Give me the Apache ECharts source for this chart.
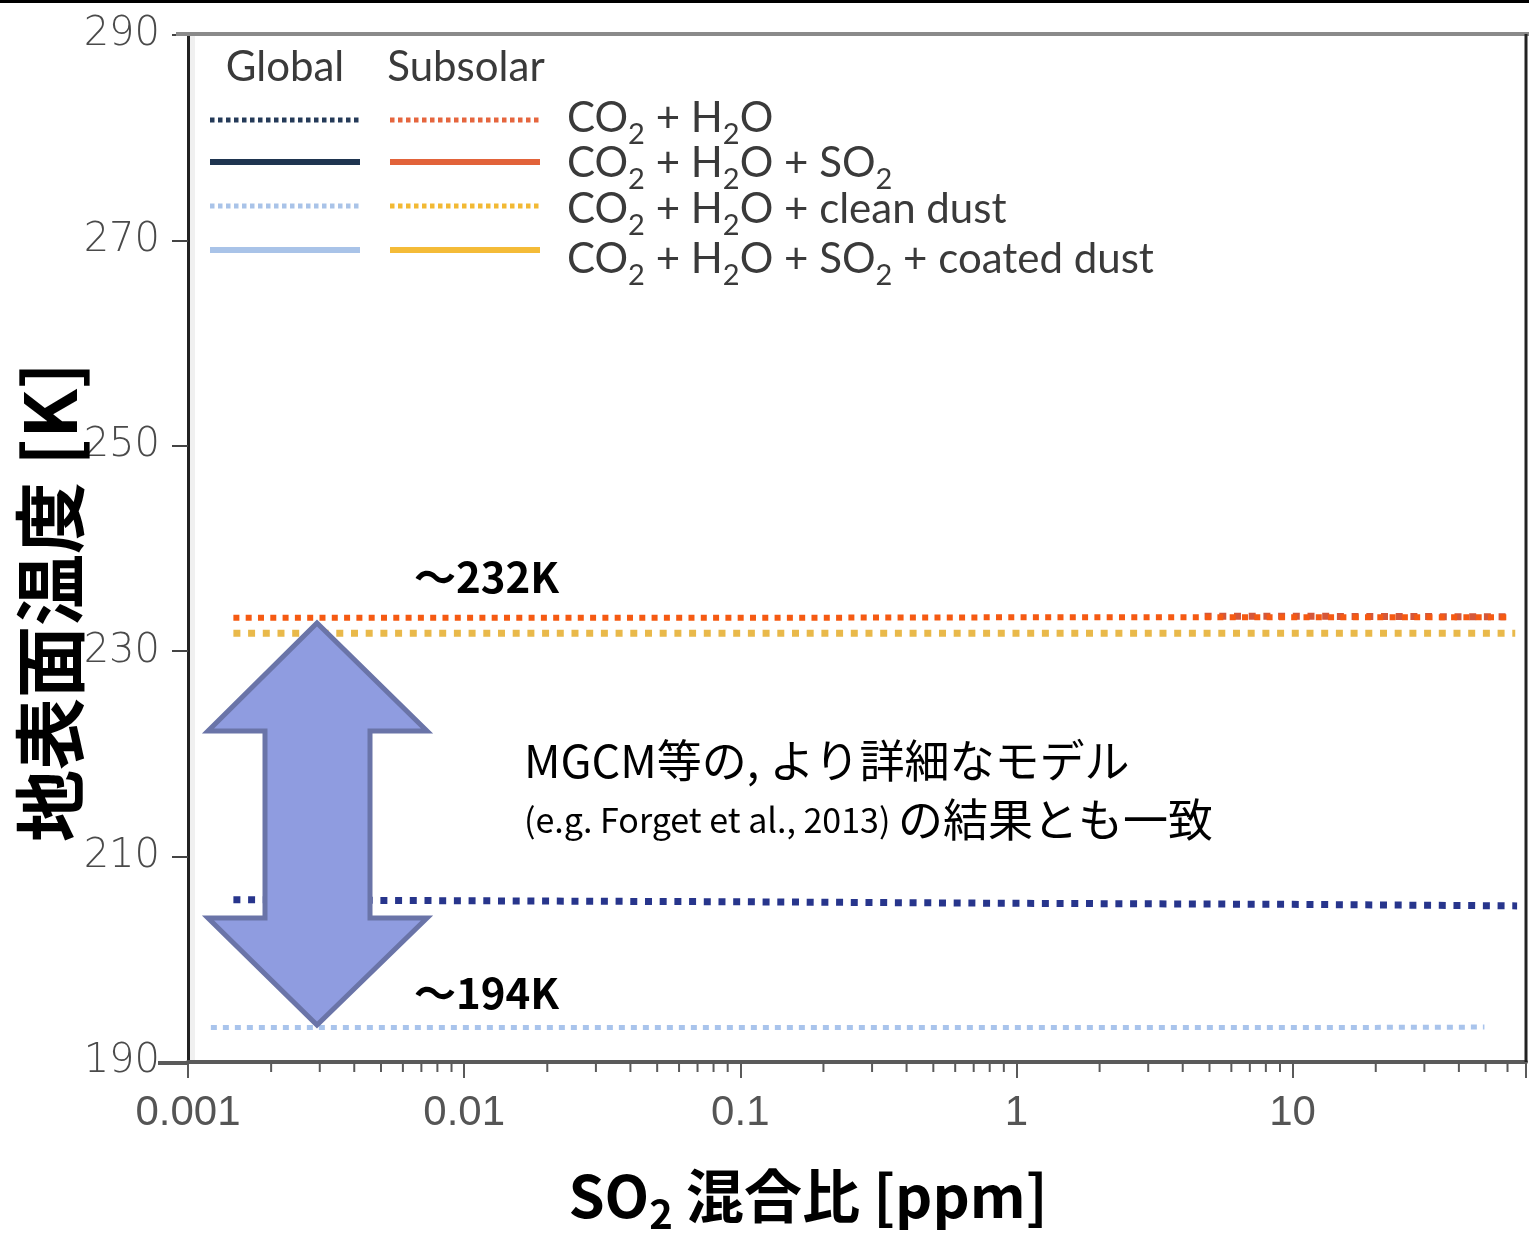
<!DOCTYPE html>
<html><head><meta charset="utf-8">
<script src="https://cdn.jsdelivr.net/npm/echarts@6/dist/echarts.min.js"></script>
<style>html,body{margin:0;padding:0;background:#fff}#c{width:1529px;height:1234px}</style>
</head><body><div id="c"></div>
<script>
// ---- data ----
const yTickValues = [190, 210, 230, 250, 270, 290];
const xMajorTickLabels = ['0.001', '0.01', '0.1', '1', '10'];
const xMinorTicks = [0.002,0.003,0.004,0.005,0.006,0.007,0.008,0.009,
                     0.02,0.03,0.04,0.05,0.06,0.07,0.08,0.09,
                     0.2,0.3,0.4,0.5,0.6,0.7,0.8,0.9,
                     2,3,4,5,6,7,8,9,
                     20,30,40,50,60];
// Subsolar CO2 + H2O
const subsolarH2O_x = [0.00146, 0.01, 0.1, 1, 10, 62];
const subsolarH2O_y = [233.25, 233.25, 233.25, 233.3, 233.3, 233.3];
// Subsolar CO2 + H2O + SO2 (visible segment)
const subsolarSO2_x = [4.8, 10, 62];
const subsolarSO2_y = [233.4, 233.4, 233.35];
// Subsolar CO2 + H2O + clean dust
const subsolarDust_x = [0.00146, 0.01, 0.1, 1, 10, 64];
const subsolarDust_y = [231.75, 231.75, 231.75, 231.75, 231.75, 231.75];
// Global CO2 + H2O
const globalH2O_x = [0.00146, 0.01, 0.1, 1, 10, 65];
const globalH2O_y = [205.8, 205.7, 205.6, 205.45, 205.35, 205.2];
// Global CO2 + H2O + clean dust
const globalDust_x = [0.00121, 0.01, 0.1, 1, 10, 49.5];
const globalDust_y = [193.35, 193.35, 193.35, 193.35, 193.35, 193.4];

const zip = (xs, ys) => xs.map((x, i) => [x, ys[i]]);

const chart = echarts.init(document.getElementById('c'), null, {renderer: 'canvas'});

const subTxt = (parts) => parts.map(p => p.s ? '{s|' + p.s + '}' : '{n|' + p.n + '}').join('');
const legendRich = {
  n: {fontSize: 42, fontFamily: 'Lato, "Open Sans", sans-serif', fill: '#3a3a3a', color: '#3a3a3a'},
  s: {fontSize: 29, fontFamily: 'Lato, "Open Sans", sans-serif', fill: '#3a3a3a', color: '#3a3a3a', padding: [34, 0, 0, 0]}
};

function legLine(x1, x2, y, color, dashed, w) {
  return {type: 'line', z: 100, shape: {x1: x1, y1: y, x2: x2, y2: y},
    style: {stroke: color, lineWidth: w, lineDash: dashed ? [4.5, 3.5] : null}};
}
function legText(x, y, txt) {
  return {type: 'text', z: 100, x: x, y: y,
    style: {text: txt, rich: legendRich, align: 'left', verticalAlign: 'middle'}};
}

const option = {
  backgroundColor: '#fff',
  animation: false,
  grid: {left: 188, top: 35, right: 2, bottom: 172, containLabel: false},
  xAxis: {
    type: 'log', logBase: 10, min: 0.001, max: 70,
    axisLine: {show: true, onZero: false, lineStyle: {color: '#5a5a5a', width: 4}},
    axisTick: {show: true, length: 16, lineStyle: {color: '#5a5a5a', width: 2}},
    axisLabel: {
      margin: 30, fontSize: 42, color: '#555',
      fontFamily: '"Liberation Sans Narrow", "Liberation Sans", sans-serif',
      formatter: (v) => {
        const s = xMajorTickLabels.find(l => Math.abs(parseFloat(l) - v) / v < 1e-6);
        return s || '';
      }
    },
    splitLine: {show: false}
  },
  yAxis: {
    type: 'value', min: yTickValues[0], max: yTickValues[yTickValues.length - 1], interval: 20,
    axisLine: {show: true, lineStyle: {color: '#222', width: 3}},
    axisTick: {show: true, length: 16, lineStyle: {color: '#444', width: 2}},
    axisLabel: {margin: 28, fontSize: 40, color: '#4a4a4a', fontFamily: '"DejaVu Sans", sans-serif', fontWeight: 200},
    splitLine: {show: false}
  },
  series: [
    {name: 'Global CO2 + H2O + clean dust', type: 'line', symbol: 'none', data: zip(globalDust_x, globalDust_y),
     lineStyle: {color: '#a9c4ec', width: 5, type: [6, 6], cap: 'butt'}, z: 2},
    {name: 'Global CO2 + H2O', type: 'line', symbol: 'none', data: zip(globalH2O_x, globalH2O_y),
     lineStyle: {color: '#27358c', width: 7, type: [7, 7.7], cap: 'butt'}, z: 3},
    {name: 'Subsolar CO2 + H2O + clean dust', type: 'line', symbol: 'none', data: zip(subsolarDust_x, subsolarDust_y),
     lineStyle: {color: '#e9b94a', width: 7, type: [7, 7.7], cap: 'butt'}, z: 3},
    {name: 'Subsolar CO2 + H2O + SO2', type: 'line', symbol: 'none', data: zip(subsolarSO2_x, subsolarSO2_y),
     lineStyle: {color: '#d4573a', width: 7, type: [7, 7.7], cap: 'butt'}, z: 3},
    {name: 'Subsolar CO2 + H2O', type: 'line', symbol: 'none', data: zip(subsolarH2O_x, subsolarH2O_y),
     lineStyle: {color: '#f55a12', width: 6, type: [6, 6.3], cap: 'butt'}, z: 4},
    {name: 'minor ticks', type: 'custom', silent: true, clip: false,
     data: xMinorTicks.map(v => [v, 190]),
     encode: {x: 0, y: 1},
     renderItem: (params, api) => {
       const p = api.coord([api.value(0), 190]);
       return {type: 'line', shape: {x1: p[0], y1: p[1], x2: p[0], y2: p[1] + 10},
               style: {stroke: '#5a5a5a', lineWidth: 2}};
     }, z: 5}
  ],
  graphic: [
    // frame
    {type: 'rect', z: 0, shape: {x: 0, y: 0, width: 1529, height: 3}, style: {fill: '#000'}},
    {type: 'rect', z: 0, shape: {x: 189, y: 36, width: 6, height: 1025}, style: {fill: '#f0f0f0'}},
    {type: 'line', z: 1, shape: {x1: 176, y1: 34, x2: 1529, y2: 34}, style: {stroke: '#8a8a8a', lineWidth: 4}},
    {type: 'line', z: 1, shape: {x1: 1526, y1: 34, x2: 1526, y2: 1062}, style: {stroke: '#222', lineWidth: 3}},
    {type: 'line', z: 1, shape: {x1: 158, y1: 1063, x2: 188, y2: 1063}, style: {stroke: '#5a5a5a', lineWidth: 4}},
    // axis names
    {type: 'text', x: 50, y: 602, rotation: Math.PI / 2, z: 50,
     style: {text: '地表面温度 [K]', font: 'bold 72px "Noto Sans CJK JP", sans-serif', fill: '#000', align: 'center', verticalAlign: 'middle'}},
    {type: 'text', x: 808, y: 1196, z: 50,
     style: {text: '{b|SO}{bs|2}{b| 混合比 [ppm]}', align: 'center', verticalAlign: 'middle',
       rich: {
         b: {fontSize: 58, fontWeight: 'bold', fontFamily: '"Noto Sans CJK JP", sans-serif', fill: '#000', color: '#000'},
         bs: {fontSize: 40, fontWeight: 'bold', fontFamily: '"Noto Sans CJK JP", sans-serif', fill: '#000', color: '#000', padding: [36, 0, 0, 0]}
       }}},
    // legend headers
    {type: 'text', x: 285, y: 67, z: 100, style: {text: 'Global', font: '42px Lato, "Open Sans", sans-serif', fill: '#3a3a3a', align: 'center', verticalAlign: 'middle'}},
    {type: 'text', x: 466, y: 67, z: 100, style: {text: 'Subsolar', font: '42px Lato, "Open Sans", sans-serif', fill: '#3a3a3a', align: 'center', verticalAlign: 'middle'}},
    legLine(210, 360, 120, '#243a58', true, 5),
    legLine(390, 540, 120, '#e5653d', true, 5),
    legLine(210, 360, 162, '#1f3550', false, 6),
    legLine(390, 540, 162, '#e2633a', false, 6),
    legLine(210, 360, 206, '#a9c3e8', true, 5),
    legLine(390, 540, 206, '#f2b934', true, 5),
    legLine(210, 360, 250, '#a9c3e8', false, 6),
    legLine(390, 540, 250, '#f4bb38', false, 6),
    legText(567, 118, subTxt([{n: 'CO'}, {s: '2'}, {n: ' + H'}, {s: '2'}, {n: 'O'}])),
    legText(567, 163, subTxt([{n: 'CO'}, {s: '2'}, {n: ' + H'}, {s: '2'}, {n: 'O + SO'}, {s: '2'}])),
    legText(567, 209, subTxt([{n: 'CO'}, {s: '2'}, {n: ' + H'}, {s: '2'}, {n: 'O + clean dust'}])),
    legText(567, 259, subTxt([{n: 'CO'}, {s: '2'}, {n: ' + H'}, {s: '2'}, {n: 'O + SO'}, {s: '2'}, {n: ' + coated dust'}])),
    // double arrow
    {type: 'polygon', z: 60,
     shape: {points: [[317, 623], [427, 731], [370, 731], [370, 918], [427, 918], [317, 1025], [208, 918], [265, 918], [265, 731], [208, 731]]},
     style: {fill: '#8f9ce0', stroke: '#6a74a8', lineWidth: 5}},
    // annotations
    {type: 'text', x: 414, y: 577, z: 60, style: {text: '～232K', font: 'bold 42px "Noto Sans CJK JP", sans-serif', fill: '#000', align: 'left', verticalAlign: 'middle'}},
    {type: 'text', x: 414, y: 993, z: 60, style: {text: '～194K', font: 'bold 42px "Noto Sans CJK JP", sans-serif', fill: '#000', align: 'left', verticalAlign: 'middle'}},
    {type: 'text', x: 524, y: 761, z: 60, style: {text: 'MGCM等の, より詳細なモデル', font: '45px "Noto Sans CJK JP", sans-serif', fill: '#000', align: 'left', verticalAlign: 'middle'}},
    {type: 'text', x: 524, y: 820, z: 60, style: {text: '{a|(e.g. Forget et al., 2013) }{b|の結果とも一致}', align: 'left', verticalAlign: 'middle',
      rich: {a: {fontSize: 34, fontFamily: '"Noto Sans CJK JP", sans-serif', fill: '#000', color: '#000'},
             b: {fontSize: 45, fontFamily: '"Noto Sans CJK JP", sans-serif', fill: '#000', color: '#000'}}}}
  ]
};
chart.setOption(option);
</script>
</body></html>
